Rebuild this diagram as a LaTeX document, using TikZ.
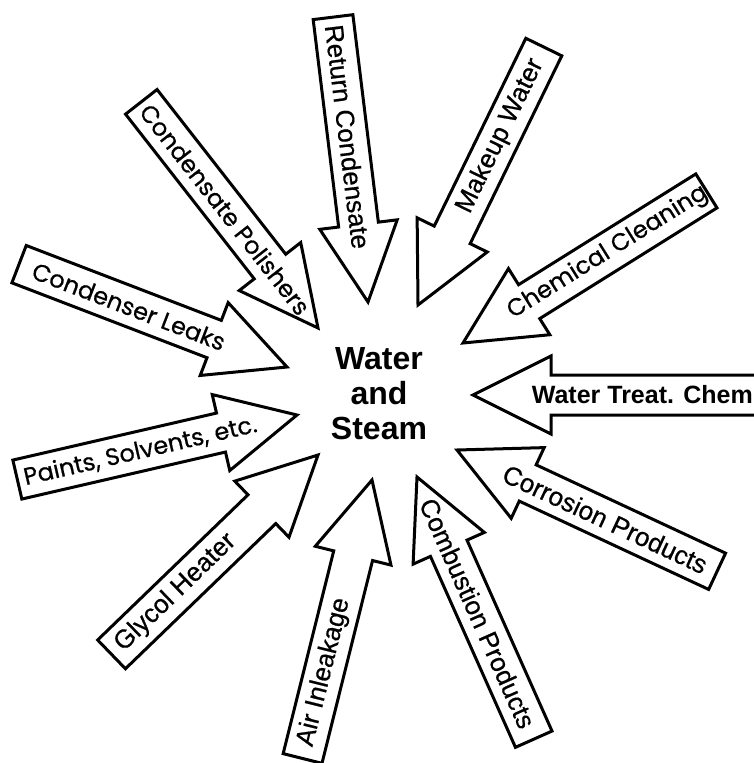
\documentclass[tikz,border=0pt]{standalone}
\usepackage{fontspec}
\setmainfont{Liberation Sans}
\newfontfamily\heavyfont{Liberation Sans}[FakeBold=0.6]
\newfontfamily\geofont{Poppins}[FakeBold=0.6]
\usepackage{tikz}
\usetikzlibrary{calc}
\newcommand{\arrlen}{287pt}
\newcommand{\headlen}{78pt}
\newcommand{\headwd}{39pt}
\newcommand{\shaftwd}{20pt}
% #1 name, #2 tip, #3 direction, #4 text pos, #5 text style, #6 text
\newcommand{\feedarrow}[6]{%
  \coordinate (#1-tip) at #2;
  \coordinate (#1-base) at ($(#1-tip)+(#3+180:\headlen)$);
  \coordinate (#1-tail) at ($(#1-tip)+(#3+180:\arrlen)$);
  \draw[feed] (#1-tip) -- ($(#1-base)+(#3+90:\headwd)$) -- ($(#1-base)+(#3+90:\shaftwd)$) -- ($(#1-tail)+(#3+90:\shaftwd)$) -- ($(#1-tail)+(#3-90:\shaftwd)$) -- ($(#1-base)+(#3-90:\shaftwd)$) -- ($(#1-base)+(#3-90:\headwd)$) -- cycle;
  \path (#1-tail) -- (#1-tip) node[pos=#4, sloped, #5] (#1) {#6};
}

\begin{document}
\begin{tikzpicture}[x=1pt, y=-1pt, feed/.style={draw=black, line width=3pt, fill=white},lbl/.style={font=\heavyfont\fontsize{26}{30}\selectfont, inner sep=0pt},lblb/.style={font=\bfseries\fontsize{25}{30}\selectfont, inner sep=0pt},geo/.style={font=\geofont\fontsize{24}{28}\selectfont, inner sep=0pt}]
\useasboundingbox (0,0) rectangle (754,763);
\clip (0,0) rectangle (754,763);
\node[font=\bfseries\fontsize{32}{35}\selectfont, align=center] (ws) at (379,394) {Water\\and\\Steam};
\feedarrow{rc}{(368,302)}{-83}{0.42}{lbl}{Return Condensate}
\feedarrow{mw}{(418,305)}{244}{0.345}{lbl}{Makeup Water}
\feedarrow{cc}{(463,343)}{212}{0.405}{geo}{Chemical Cleaning}
\feedarrow{wt}{(473,395)}{180}{0.41}{lblb}{Water Treat. Chem}
\feedarrow{cp}{(457,450)}{155}{0.43}{lbl}{Corrosion Products}
\feedarrow{cbp}{(417,477)}{114}{0.48}{lbl}{Combustion Products}
\feedarrow{ai}{(372,480)}{76}{0.31}{lbl}{Air Inleakage}
\feedarrow{gh}{(318,455)}{44}{0.31}{lbl}{Glycol Heater}
\feedarrow{ps}{(297,415)}{13}{0.44}{geo}{Paints, Solvents, etc.}
\feedarrow{cl}{(287,367)}{-21}{0.41}{geo}{Condenser Leaks}
\feedarrow{cpol}{(318,328)}{-52}{0.475}{geo}{Condensate Polishers}
\end{tikzpicture}
\end{document}
